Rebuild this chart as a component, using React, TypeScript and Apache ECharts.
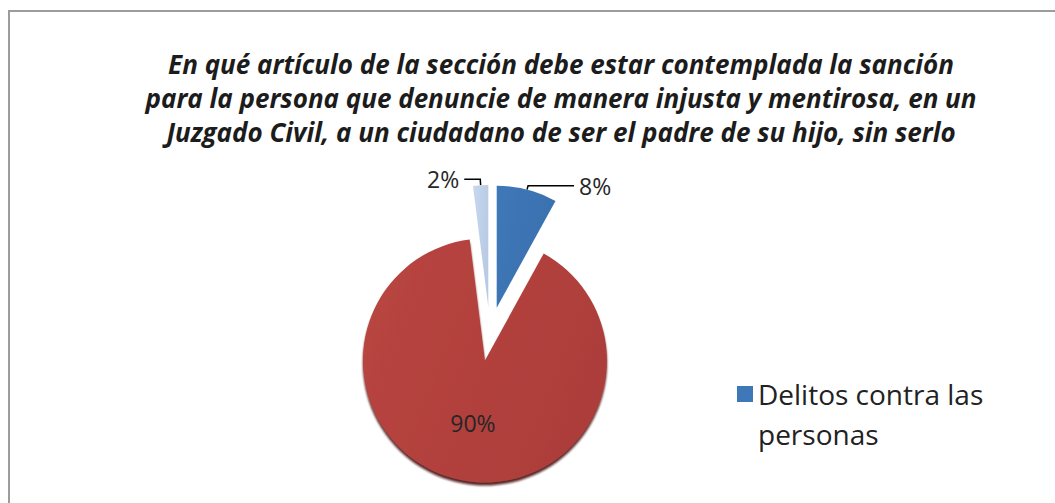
import React, { useEffect, useRef } from "react";
import * as echarts from "echarts";

const titleLines = [
  "En qué artículo de la sección debe estar contemplada la sanción",
  "para la persona que denuncie de manera injusta y mentirosa, en un",
  "Juzgado Civil, a un ciudadano de ser el padre de su hijo, sin serlo",
];
const categories = ["Delitos contra las personas", "Otros artículos", "Otro"];
const values = [8, 90, 2];
const colors = ["#3f78b8", "#b94541", "#c6d7ee"];
const shades = ["#3a70ae", "#ad3e3a", "#b9cbe4"];
const legendShown = ["Delitos contra las personas"];

export default function App() {
  const ref = useRef<HTMLDivElement>(null);
  useEffect(() => {
    document.body.style.margin = "0";
    const chart = echarts.init(ref.current!, null, { renderer: "svg" });
    const font = "'Open Sans', Lato, sans-serif";
    chart.setOption({
      animation: false,
      backgroundColor: "#ffffff",
      title: {
        text: titleLines.join("\n"),
        left: 556,
        top: 42,
        textAlign: "center",
        textStyle: {
          fontFamily: font,
          fontSize: 26,
          fontStyle: "italic",
          fontWeight: "bold",
          color: "#1c1c1c",
          lineHeight: 34,
        },
      },
      legend: {
        data: legendShown,
        orient: "vertical",
        left: 732,
        top: 329,
        itemWidth: 16,
        itemHeight: 16,
        itemGap: 6,
        icon: "rect",
        selectedMode: false,
        formatter: (name: string) => "\n" + name,
        itemStyle: { color: colors[0] },
        textStyle: {
          fontFamily: font,
          fontSize: 28,
          color: "#222222",
          lineHeight: 40,
          width: 250,
          overflow: "break",
        },
      },
      graphic: [
        {
          type: "rect",
          shape: { x: 9, y: 11, width: 1200, height: 600 },
          style: { fill: "none", stroke: "#9c9c9c", lineWidth: 2 },
          silent: true,
        },
      ],
      series: [
        {
          type: "pie",
          center: [490, 334],
          radius: 122,
          startAngle: 90,
          clockwise: true,
          selectedMode: "multiple",
          selectedOffset: 27,
          avoidLabelOverlap: false,
          label: {
            show: true,
            formatter: "{d}%",
            fontFamily: font,
            fontSize: 23,
            color: "#262626",
          },
          labelLine: {
            show: true,
            length: 4,
            length2: 46,
            lineStyle: { color: "#000000", width: 1.5 },
          },
          data: categories.map((name, i) => ({
            name,
            value: values[i],
            selected: true,
            itemStyle: {
              color: {
                type: "linear",
                x: 0,
                y: 0,
                x2: 1,
                y2: 0.4,
                colorStops: [
                  { offset: 0, color: colors[i] },
                  { offset: 1, color: shades[i] },
                ],
              },
              ...(i === 1
                ? {
                    shadowColor: "rgba(70,10,10,0.9)",
                    shadowOffsetY: 3,
                    shadowBlur: 2,
                  }
                : {}),
            },
            label: i === 1 ? { position: "inside" } : { position: "outside" },
            labelLine: i === 2 ? { length: 6, length2: 16 } : undefined,
          })),
        },
      ],
    });
    return () => chart.dispose();
  }, []);
  return <div ref={ref} style={{ width: 1055, height: 503 }} />;
}
